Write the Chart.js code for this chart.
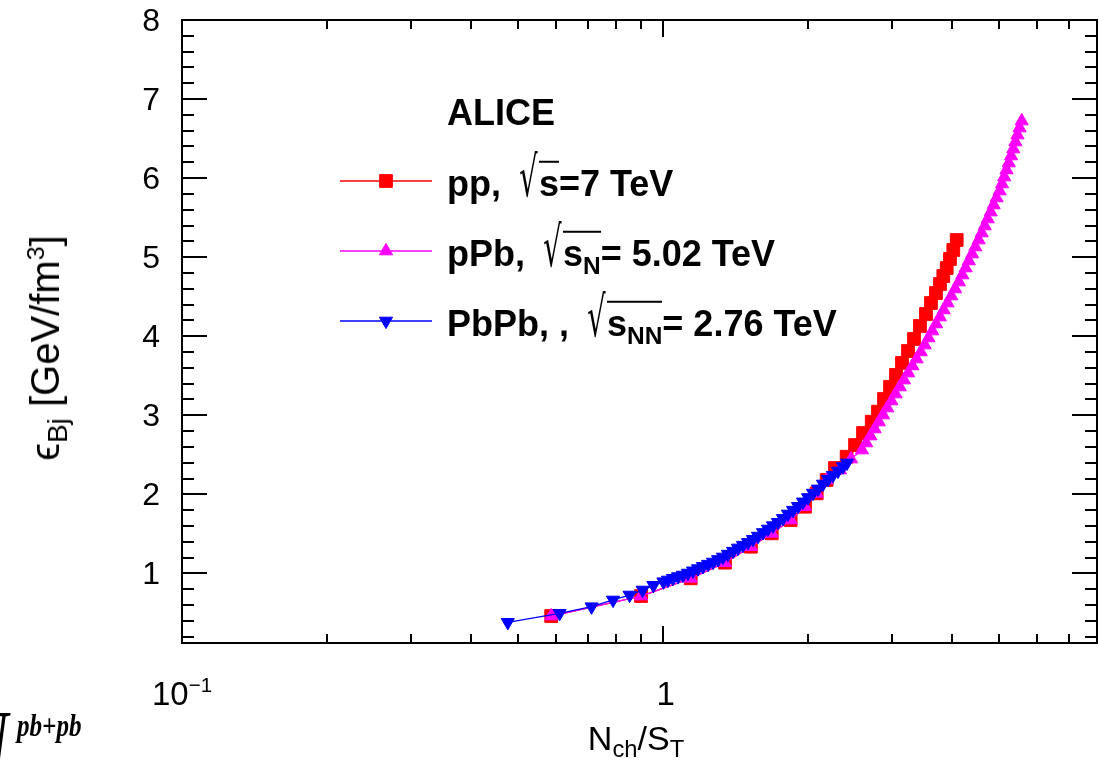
<!DOCTYPE html>
<html>
<head>
<meta charset="utf-8">
<title>Bjorken energy density vs N_ch/S_T</title>
<script src="https://cdn.jsdelivr.net/npm/chart.js@4.4.1/dist/chart.umd.min.js"></script>
<style>
  html, body { margin: 0; padding: 0; background: #fff; }
  #stage { position: relative; width: 1099px; height: 760px; overflow: hidden;
           font-family: "Liberation Sans", Arial, Helvetica, sans-serif; color: #000; }
  #plot { position: absolute; left: 0; top: 0; }
  .txt { position: absolute; white-space: nowrap; line-height: 1; }
  .ytick { font-size: 32px; transform: translate(-100%, -50%); }
  .xtick { font-size: 33px; transform: translate(-50%, -50%); }
  .sup { position: relative; font-size: 0.62em; top: -0.62em; }
  .sub { position: relative; font-size: 0.7em; top: 0.3em; }
  #ytitle { font-size: 40px; left: 45px; top: 348px; transform: translate(-50%, -50%) rotate(-90deg); }
  #xtitle { font-size: 34px; left: 636px; top: 738px; transform: translate(-50%, -50%); }
  .leg { font-size: 36px; font-weight: bold; transform: translateY(-50%); }
  .rt { font-weight: normal; font-family: "DejaVu Sans", sans-serif; display: inline-block;
        transform: scale(0.8, 1.55); transform-origin: 50% 82%; margin-left: 6px; margin-right: -1px; }
  .ov { display: inline-block; border-top: 2px solid #000; line-height: 1.18; }
  .ov .sub { font-size: 0.68em; top: 0.32em; }
  #cornerN { left: -30px; top: 700px; font-family: "Liberation Serif", serif; font-style: italic;
             font-weight: bold; font-size: 72px; transform: scaleX(0.75); transform-origin: 0 0; }
  #cornerSup { left: 17px; top: 710px; font-family: "Liberation Serif", serif; font-style: italic;
               font-weight: bold; font-size: 31px; transform: scaleX(0.81); transform-origin: 0 0; }
</style>
</head>
<body>
<div id="stage">
  <canvas id="plot" width="1099" height="760"></canvas>
  <div class="txt" id="ytitle">&#x03F5;<span class="sub">Bj</span> [GeV/fm<span class="sup">3</span>]</div>
  <div class="txt" id="xtitle">N<span class="sub">ch</span>/S<span class="sub">T</span></div>
  <div class="txt" id="cornerN">N</div>
  <div class="txt" id="cornerSup">pb+pb</div>
</div>
<script>
// Bjorken energy density (GeV/fm^3) against N_ch / S_T for three collision systems
const ppX   = [0.586, 0.901, 1.143, 1.347, 1.525, 1.685, 1.845, 1.976, 2.090, 2.192,
               2.281, 2.412, 2.511, 2.609, 2.720, 2.803, 2.885, 2.969, 3.055, 3.144,
               3.236, 3.330, 3.427, 3.527, 3.612, 3.700, 3.772, 3.832, 3.895, 3.957,
               4.020, 4.086];
const ppY   = [0.461, 0.714, 0.938, 1.136, 1.338, 1.507, 1.676, 1.844, 2.013, 2.182,
               2.333, 2.476, 2.624, 2.776, 2.919, 3.046, 3.206, 3.358, 3.510, 3.662,
               3.813, 3.965, 4.130, 4.281, 4.420, 4.547, 4.661, 4.762, 4.863, 4.977,
               5.091, 5.217];

const pPbX  = [0.586, 0.901, 1.143, 1.347, 1.525, 1.685, 1.845, 1.976, 2.090, 2.192,
               2.336, 2.463, 2.596, 2.649, 2.703, 2.758, 2.814, 2.871, 2.929, 2.989,
               3.049, 3.111, 3.174, 3.239, 3.305, 3.372, 3.440, 3.505, 3.569, 3.635,
               3.702, 3.770, 3.839, 3.910, 3.981, 4.055, 4.129, 4.197, 4.264, 4.330,
               4.399, 4.467, 4.538, 4.606, 4.672, 4.740, 4.808, 4.876, 4.946, 5.018,
               5.076, 5.130, 5.187, 5.244, 5.302, 5.358, 5.412, 5.467, 5.522, 5.578];
const pPbY  = [0.461, 0.714, 0.938, 1.136, 1.338, 1.507, 1.676, 1.844, 2.013, 2.182,
               2.308, 2.447, 2.561, 2.650, 2.738, 2.827, 2.915, 3.004, 3.092, 3.181,
               3.269, 3.358, 3.446, 3.535, 3.624, 3.712, 3.801, 3.889, 3.978, 4.066,
               4.155, 4.243, 4.332, 4.420, 4.509, 4.598, 4.686, 4.775, 4.863, 4.952,
               5.040, 5.129, 5.217, 5.306, 5.394, 5.483, 5.571, 5.660, 5.749, 5.837,
               5.926, 6.014, 6.103, 6.191, 6.280, 6.368, 6.457, 6.545, 6.634, 6.722];

const PbPbX = [0.476, 0.610, 0.711, 0.788, 0.853, 0.908, 0.956, 1.003, 1.025, 1.050,
               1.076, 1.101, 1.128, 1.156, 1.184, 1.212, 1.242, 1.272, 1.303, 1.334,
               1.366, 1.400, 1.433, 1.468, 1.504, 1.540, 1.578, 1.616, 1.655, 1.695,
               1.736, 1.778, 1.821, 1.866, 1.911, 1.957, 2.005, 2.053, 2.103, 2.154,
               2.206, 2.259, 2.314, 2.370, 2.416];
const PbPbY = [0.382, 0.496, 0.579, 0.664, 0.727, 0.790, 0.850, 0.895, 0.917, 0.939,
               0.960, 0.980, 1.005, 1.033, 1.061, 1.089, 1.117, 1.144, 1.176, 1.208,
               1.244, 1.282, 1.322, 1.357, 1.392, 1.432, 1.472, 1.518, 1.562, 1.604,
               1.647, 1.696, 1.752, 1.800, 1.849, 1.905, 1.960, 2.016, 2.069, 2.131,
               2.191, 2.242, 2.296, 2.352, 2.397];

// legend texts: system, subscript under the square root, energy part
const seriesNames   = ['pp', 'pPb', 'PbPb'];
const legendPrefix  = ['pp,', 'pPb,', 'PbPb, ,'];
const legendRootSub = ['', 'N', 'NN'];
const legendSuffix  = ['=7 TeV', '= 5.02 TeV', '= 2.76 TeV'];
const legendHeader  = 'ALICE';

// axis ticks
const yTickValues  = [1, 2, 3, 4, 5, 6, 7, 8];
const yTickLabels  = ['1', '2', '3', '4', '5', '6', '7', '8'];
const xTickValues  = [0.1, 1];
const xTickBases   = ['10', '1'];
const xTickExps    = ['\u22121', ''];
const xMinorValues = [0.2, 0.3, 0.4, 0.5, 0.6, 0.7, 0.8, 0.9, 2, 3, 4, 5, 6, 7];

const colors = ['#ff0000', '#ff00ff', '#0000ff'];
const styles = ['rect', 'triangle', 'triangle'];
const rots   = [0, 0, 180];
const radii  = [9, 7.6, 7.6];

function pts(xs, ys) { return xs.map((x, i) => ({ x: x, y: ys[i] })); }
const seriesData = [pts(ppX, ppY), pts(pPbX, pPbY), pts(PbPbX, PbPbY)];

const stage = document.getElementById('stage');
function addText(cls, html, left, top) {
  const d = document.createElement('div');
  d.className = 'txt ' + cls;
  d.innerHTML = html;
  d.style.left = left + 'px';
  d.style.top = top + 'px';
  stage.appendChild(d);
  return d;
}

const legendRowsY = [181, 251, 321];
const legendLine = { x0: 340, x1: 432, mark: 386 };

// frame, inward ticks on all four sides, and legend symbols
const framePlugin = {
  id: 'frameTicks',
  afterDatasetsDraw(chart) {
    const { ctx, chartArea: a, scales } = chart;
    const xs = scales.x, ys = scales.y;
    ctx.save();
    ctx.strokeStyle = '#000';
    ctx.lineWidth = 2;
    ctx.beginPath();
    for (let k = 1; k <= 40; k++) {
      const v = k / 5;
      if (v < ys.min || v > ys.max) continue;
      const len = (k % 5 === 0) ? 25 : 12;
      const py = Math.round(ys.getPixelForValue(v));
      ctx.moveTo(a.left, py); ctx.lineTo(a.left + len, py);
      ctx.moveTo(a.right, py); ctx.lineTo(a.right - len, py);
    }
    const xt = xTickValues.map(v => [v, 17]).concat(xMinorValues.map(v => [v, 9]));
    xt.forEach(([v, len]) => {
      const px = Math.round(xs.getPixelForValue(v));
      ctx.moveTo(px, a.bottom); ctx.lineTo(px, a.bottom - len);
      ctx.moveTo(px, a.top); ctx.lineTo(px, a.top + len);
    });
    ctx.stroke();
    ctx.strokeRect(a.left, a.top, a.right - a.left, a.bottom - a.top);

    // legend symbols
    legendRowsY.forEach((y, i) => {
      ctx.strokeStyle = colors[i];
      ctx.fillStyle = colors[i];
      ctx.lineWidth = 1.3;
      ctx.beginPath();
      ctx.moveTo(legendLine.x0, y); ctx.lineTo(legendLine.x1, y);
      ctx.stroke();
      ctx.lineWidth = 1;
      Chart.helpers.drawPoint(ctx, {
        pointStyle: styles[i], rotation: rots[i], radius: radii[i], borderWidth: 1
      }, legendLine.mark, y);
    });
    ctx.restore();
  },
  afterRender(chart) {
    if (chart.$labelsDone) return;
    chart.$labelsDone = true;
    const xs = chart.scales.x, ys = chart.scales.y;
    yTickValues.forEach((v, i) => {
      addText('ytick', yTickLabels[i], 160, ys.getPixelForValue(v));
    });
    xTickValues.forEach((v, i) => {
      const html = xTickBases[i] + (xTickExps[i] ? '<span class="sup">' + xTickExps[i] + '</span>' : '');
      addText('xtick', html, xs.getPixelForValue(v) + (xTickExps[i] ? 0 : 3), 693);
    });
    addText('leg', legendHeader, 447, 113);
    legendRowsY.forEach((y, i) => {
      const sub = legendRootSub[i] ? '<span class="sub">' + legendRootSub[i] + '</span>' : '';
      const html = legendPrefix[i] + '&nbsp;<span class="rt">\u221A</span><span class="ov">s' + sub + '</span>' +
                   legendSuffix[i].replace(' ', '&nbsp;');
      addText('leg', html, 447, y + 2);
    });
  }
};

new Chart(document.getElementById('plot'), {
  type: 'scatter',
  data: {
    datasets: seriesData.map((d, i) => ({
      label: seriesNames[i],
      data: d,
      showLine: true,
      borderColor: colors[i],
      backgroundColor: colors[i],
      borderWidth: 1.3,
      pointStyle: styles[i],
      pointRotation: rots[i],
      pointRadius: radii[i],
      pointHoverRadius: radii[i],
      pointBorderWidth: 1,
      pointBorderColor: colors[i],
      pointBackgroundColor: colors[i],
      tension: 0,
      order: 3 - i
    }))
  },
  options: {
    responsive: false,
    animation: false,
    devicePixelRatio: 1,
    layout: { autoPadding: false, padding: { left: 182, right: 2, top: 20, bottom: 117 } },
    scales: {
      x: { type: 'logarithmic', min: 0.1, max: 8, display: false },
      y: { type: 'linear', min: 0.12, max: 8, display: false }
    },
    plugins: { legend: { display: false }, tooltip: { enabled: false } },
    events: []
  },
  plugins: [framePlugin]
});
</script>
</body>
</html>
